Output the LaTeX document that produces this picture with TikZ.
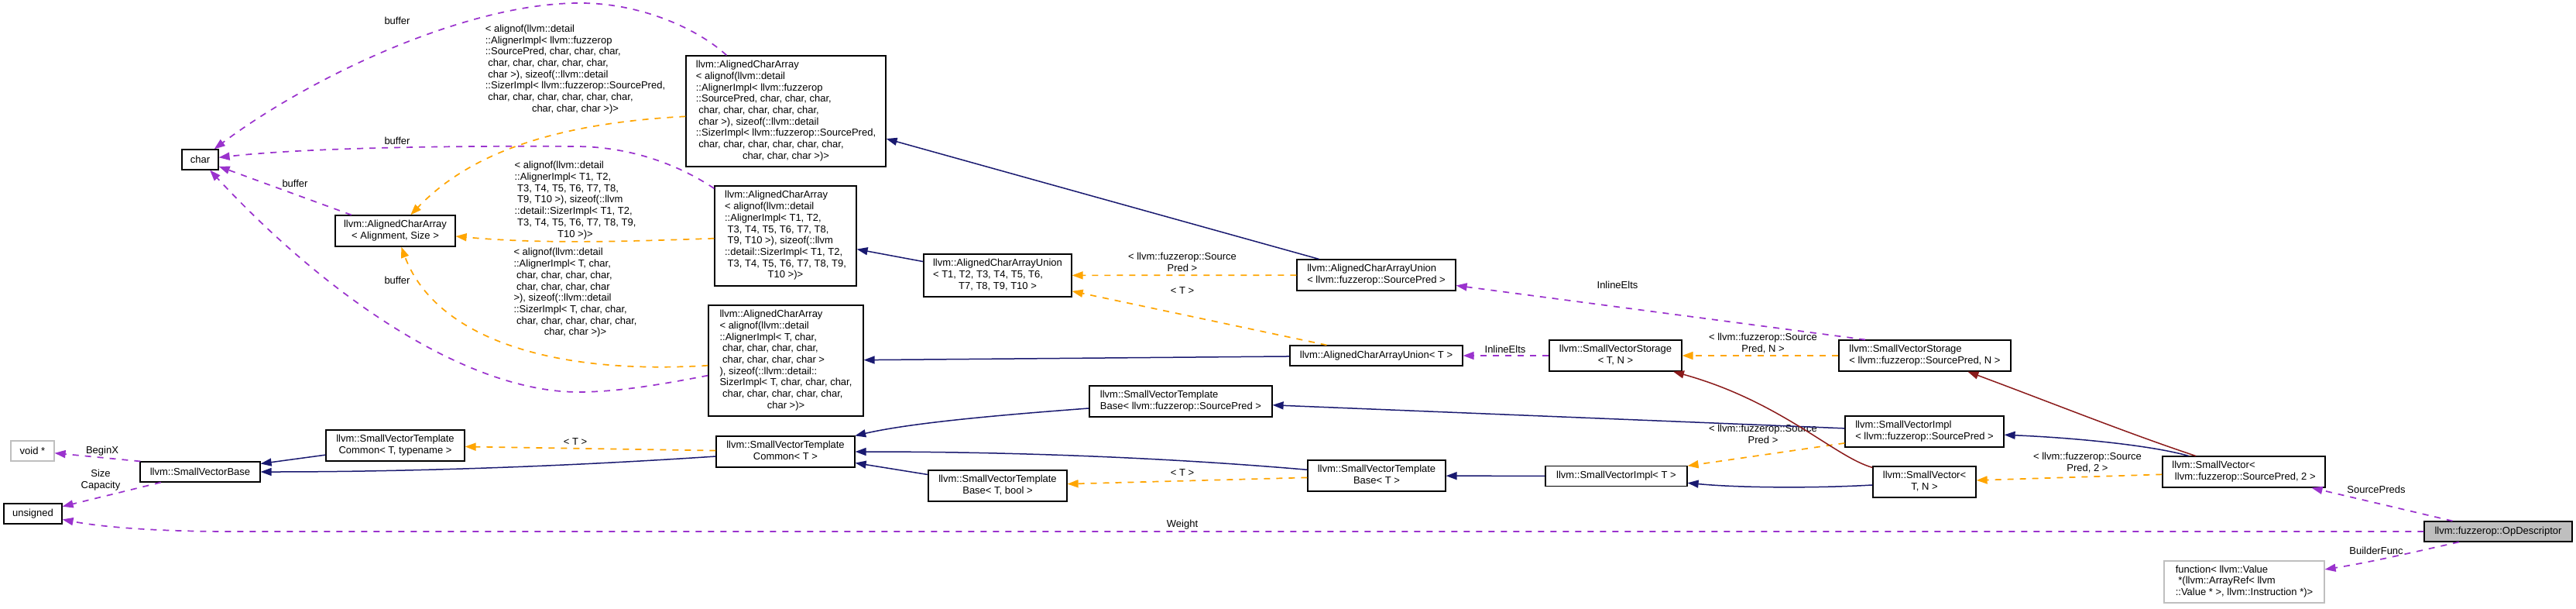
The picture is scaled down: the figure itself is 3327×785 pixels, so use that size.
\documentclass[tikz,border=0pt]{standalone}
\usepackage{fontspec}
\setmainfont{Liberation Sans}
\usetikzlibrary{arrows.meta}
\definecolor{navy}{HTML}{191970}
\definecolor{orng}{HTML}{FFA500}
\definecolor{purp}{HTML}{9A32CD}
\definecolor{fbrick}{HTML}{8B1A1A}
\definecolor{gborder}{HTML}{BFBFBF}
\newcommand{\boxl}[1]{\begin{tabular}{@{}l@{}}#1\end{tabular}}
\newcommand{\boxc}[1]{\begin{tabular}{@{}c@{}}#1\end{tabular}}
\newcommand{\lastc}[1]{\multicolumn{1}{@{}c@{}}{#1}}
\begin{document}
\begin{tikzpicture}[x=1pt,y=-1pt,
  font=\fontsize{13}{14.7}\selectfont,
  cls/.style={draw=black, line width=1.2pt, fill=white, inner sep=0pt},
  ucls/.style={draw=gborder, line width=1.2pt, fill=white, inner sep=0pt},
  focus/.style={draw=black, line width=1.2pt, fill=gborder, inner sep=0pt},
  lbl/.style={inner sep=0pt},
  tip/.style={-{Triangle[length=14pt,width=10pt]}},
  pubinh/.style={tip, draw=navy, line width=1.5pt},
  privinh/.style={tip, draw=fbrick, line width=1.5pt},
  tmpl/.style={tip, draw=orng, line width=1.7pt, dash pattern=on 8pt off 8pt},
  usage/.style={tip, draw=purp, line width=1.7pt, dash pattern=on 8pt off 8pt}]
\fill[white] (0,0) rectangle (3327,785);
\useasboundingbox (0,0) rectangle (3327,785);

% nodes
\node[cls, minimum width=47, minimum height=26] (char) at (258.5,206) {char};
\node[ucls, minimum width=56, minimum height=26] (voidp) at (42,582) {void *};
\node[cls, minimum width=75, minimum height=26] (unsigned) at (42.5,663) {unsigned};
\node[cls, minimum width=155, minimum height=26] (svbase) at (258.5,609) {llvm::SmallVectorBase};
\node[cls, minimum width=179, minimum height=40] (svtcTtn) at (510.5,575) {\boxl{llvm::SmallVectorTemplate\\\lastc{Common< T, typename >}}};
\node[cls, minimum width=155, minimum height=40] (acaAS) at (510.5,298) {\boxl{llvm::AlignedCharArray\\\lastc{< Alignment, Size >}}};
\node[cls, minimum width=258, minimum height=143] (acaSP) at (1015,143.5) {\boxl{llvm::AlignedCharArray\\< alignof(llvm::detail\\::AlignerImpl< llvm::fuzzerop\\::SourcePred, char, char, char,\\\ char, char, char, char, char,\\\ char >), sizeof(::llvm::detail\\::SizerImpl< llvm::fuzzerop::SourcePred,\\\ char, char, char, char, char, char,\\\lastc{char, char, char >)>}}};
\node[cls, minimum width=183, minimum height=129] (acaT10) at (1014.5,304.5) {\boxl{llvm::AlignedCharArray\\< alignof(llvm::detail\\::AlignerImpl< T1, T2,\\\ T3, T4, T5, T6, T7, T8,\\\ T9, T10 >), sizeof(::llvm\\::detail::SizerImpl< T1, T2,\\\ T3, T4, T5, T6, T7, T8, T9,\\\lastc{T10 >)>}}};
\node[cls, minimum width=200, minimum height=143] (acaTchar) at (1015,465.5) {\boxl{llvm::AlignedCharArray\\< alignof(llvm::detail\\::AlignerImpl< T, char,\\\ char, char, char, char,\\\ char, char, char, char >\\), sizeof(::llvm::detail::\\SizerImpl< T, char, char, char,\\\ char, char, char, char, char,\\\lastc{char >)>}}};
\node[cls, minimum width=179, minimum height=40] (svtcT) at (1014.5,583) {\boxl{llvm::SmallVectorTemplate\\\lastc{Common< T >}}};
\node[cls, minimum width=191, minimum height=55] (acauT10) at (1288.5,355.5) {\boxl{llvm::AlignedCharArrayUnion\\< T1, T2, T3, T4, T5, T6,\\\lastc{T7, T8, T9, T10 >}}};
\node[cls, minimum width=179, minimum height=40] (svtbTbool) at (1288.5,627) {\boxl{llvm::SmallVectorTemplate\\\lastc{Base< T, bool >}}};
\node[cls, minimum width=236, minimum height=40] (svtbSP) at (1525,518) {\boxl{llvm::SmallVectorTemplate\\\lastc{Base< llvm::fuzzerop::SourcePred >}}};
\node[cls, minimum width=205, minimum height=40] (acauSP) at (1777.5,355) {\boxl{llvm::AlignedCharArrayUnion\\\lastc{< llvm::fuzzerop::SourcePred >}}};
\node[cls, minimum width=223, minimum height=26] (acauT) at (1777.5,459) {llvm::AlignedCharArrayUnion< T >};
\node[cls, minimum width=178, minimum height=40] (svtbT) at (1778,614) {\boxl{llvm::SmallVectorTemplate\\\lastc{Base< T >}}};
\node[cls, minimum width=171, minimum height=40] (svsTN) at (2086.5,459) {\boxl{llvm::SmallVectorStorage\\\lastc{< T, N >}}};
\node[cls, minimum width=183, minimum height=26] (sviT) at (2087.5,614.5) {llvm::SmallVectorImpl< T >};
\node[cls, minimum width=222, minimum height=40] (svsSP) at (2486,459) {\boxl{llvm::SmallVectorStorage\\\lastc{< llvm::fuzzerop::SourcePred, N >}}};
\node[cls, minimum width=205, minimum height=40] (sviSP) at (2485.5,557) {\boxl{llvm::SmallVectorImpl\\\lastc{< llvm::fuzzerop::SourcePred >}}};
\node[cls, minimum width=133, minimum height=40] (svTN) at (2485.5,622) {\boxl{llvm::SmallVector<\\\lastc{T, N >}}};
\node[cls, minimum width=210, minimum height=40] (svSP) at (2898,609) {\boxl{llvm::SmallVector<\\\lastc{\ llvm::fuzzerop::SourcePred, 2 >}}};
\node[focus, minimum width=191, minimum height=26] (opd) at (3226.5,686) {llvm::fuzzerop::OpDescriptor};
\node[ucls, minimum width=207, minimum height=54] (func) at (2898.5,751) {\boxl{function< llvm::Value\\\ *(llvm::ArrayRef< llvm\\\lastc{::Value * >, llvm::Instruction *)>}}};

% edge labels
\node[lbl] (lb1) at (513,27) {buffer};
\node[lbl] (lb2) at (513,182) {buffer};
\node[lbl] (lb3) at (381,237) {buffer};
\node[lbl] (lb4) at (513,362) {buffer};
\node[lbl] (lL1) at (743,90) {\boxl{< alignof(llvm::detail\\::AlignerImpl< llvm::fuzzerop\\::SourcePred, char, char, char,\\\ char, char, char, char, char,\\\ char >), sizeof(::llvm::detail\\::SizerImpl< llvm::fuzzerop::SourcePred,\\\ char, char, char, char, char, char,\\\lastc{char, char, char >)>}}};
\node[lbl] (lL2) at (743,259) {\boxl{< alignof(llvm::detail\\::AlignerImpl< T1, T2,\\\ T3, T4, T5, T6, T7, T8,\\\ T9, T10 >), sizeof(::llvm\\::detail::SizerImpl< T1, T2,\\\ T3, T4, T5, T6, T7, T8, T9,\\\lastc{T10 >)>}}};
\node[lbl] (lL3) at (743,378.5) {\boxl{< alignof(llvm::detail\\::AlignerImpl< T, char,\\\ char, char, char, char,\\\ char, char, char, char\\>), sizeof(::llvm::detail\\::SizerImpl< T, char, char,\\\ char, char, char, char, char,\\\lastc{char, char >)>}}};
\node[lbl] (lbx) at (132,582) {BeginX};
\node[lbl] (lsc) at (130,620) {\boxc{Size\\Capacity}};
\node[lbl] (lt1) at (743,570) {< T >};
\node[lbl] (lw) at (1527,677) {Weight};
\node[lbl] (lsp1) at (1527,340) {\boxc{< llvm::fuzzerop::Source\\Pred >}};
\node[lbl] (lt2) at (1527,375) {< T >};
\node[lbl] (lt3) at (1527,610) {< T >};
\node[lbl] (lie1) at (2089,368) {InlineElts};
\node[lbl] (lie2) at (1944,451) {InlineElts};
\node[lbl] (lspN) at (2277,444) {\boxc{< llvm::fuzzerop::Source\\Pred, N >}};
\node[lbl] (lsp2) at (2277,562) {\boxc{< llvm::fuzzerop::Source\\Pred >}};
\node[lbl] (lsp3) at (2696,598) {\boxc{< llvm::fuzzerop::Source\\Pred, 2 >}};
\node[lbl] (lspr) at (3069,632) {SourcePreds};
\node[lbl] (lbf) at (3069,711) {BuilderFunc};

% usage (purple)
\draw[usage] (acaSP) .. controls (905,40) and (830,3) .. (746,4) .. controls (600,5) and (400,100) .. (char);
\draw[usage] (acaT10) .. controls (880,215) and (820,190) .. (746,189) .. controls (600,188) and (400,190) .. (char);
\draw[usage] (acaAS.160) -- (char);
\draw[usage] (acaTchar) .. controls (860,495) and (800,506) .. (746,506) .. controls (600,505) and (420,380) .. (char);
\draw[usage] (svbase.170) -- (voidp);
\draw[usage] (svbase.195) -- (unsigned);
\draw[usage] (opd) -- (300,686) .. controls (200,686) and (130,680) .. (unsigned);
\draw[usage] (svsSP.165) -- (acauSP);
\draw[usage] (svsTN) -- (acauT);
\draw[usage] (opd.167) -- (svSP);
\draw[usage] (opd.195) .. controls (3120,712) and (3060,726) .. (func);

% template (orange)
\draw[tmpl] (acaSP) .. controls (700,160) and (600,205) .. (acaAS);
\draw[tmpl] (acaT10) .. controls (800,312) and (700,315) .. (acaAS);
\draw[tmpl] (acaTchar) .. controls (700,485) and (560,430) .. (acaAS);
\draw[tmpl] (svtcT) -- (svtcTtn);
\draw[tmpl] (acauSP) -- (acauT10);
\draw[tmpl] (acauT.168) -- (acauT10);
\draw[tmpl] (svtbT) -- (svtbTbool);
\draw[tmpl] (svsSP) -- (svsTN);
\draw[tmpl] (sviSP) -- (sviT);
\draw[tmpl] (svSP) -- (svTN);

% public inheritance (navy)
\draw[pubinh] (svtcTtn) -- (svbase);
\draw[pubinh] (svtcT) .. controls (700,604) and (500,609) .. (svbase);
\draw[pubinh] (acauSP) -- (acaSP);
\draw[pubinh] (acauT10) -- (acaT10);
\draw[pubinh] (acauT) -- (acaTchar);
\draw[pubinh] (svtbSP) .. controls (1300,535) and (1180,545) .. (svtcT);
\draw[pubinh] (svtbT) .. controls (1500,590) and (1300,583) .. (svtcT);
\draw[pubinh] (svtbTbool) -- (svtcT);
\draw[pubinh] (sviSP) -- (svtbSP);
\draw[pubinh] (sviT) -- (svtbT);
\draw[pubinh] (svTN) .. controls (2350,630) and (2250,630) .. (sviT);
\draw[pubinh] (svSP) .. controls (2780,575) and (2680,565) .. (sviSP);

% private inheritance (firebrick)
\draw[privinh] (svTN) .. controls (2370,590) and (2300,518) .. (svsTN);
\draw[privinh] (svSP) .. controls (2750,560) and (2650,520) .. (svsSP);
\end{tikzpicture}
\end{document}
